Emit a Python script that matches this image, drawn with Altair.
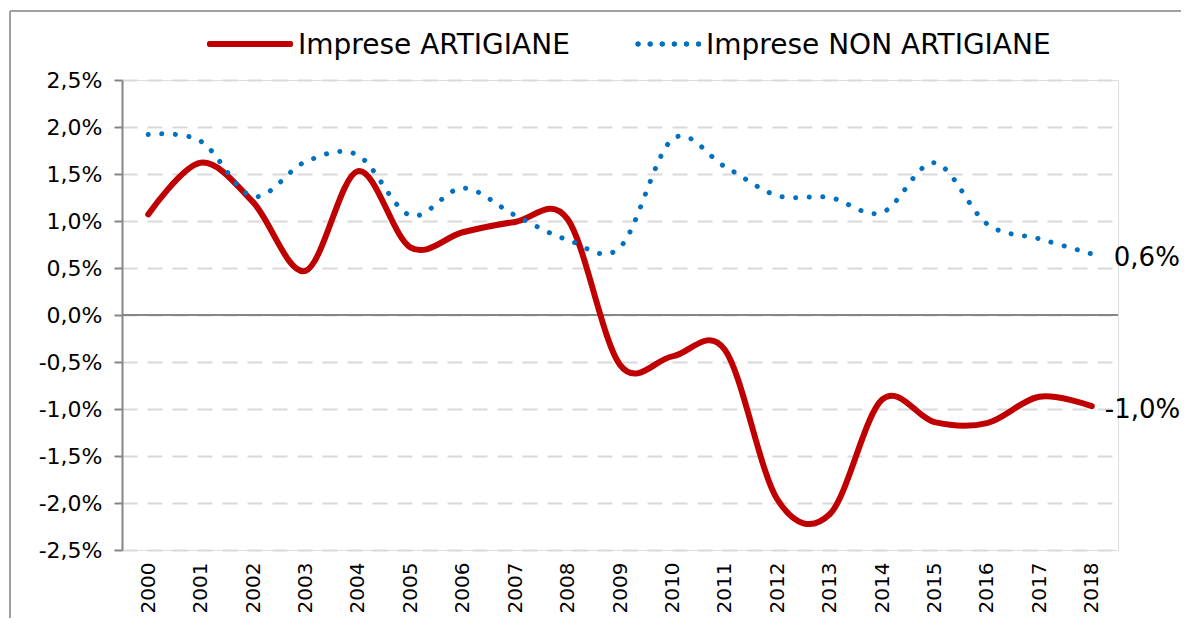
import altair as alt
import pandas as pd

years = [str(y) for y in range(2000, 2019)]
artigiane = [1.07, 1.62, 1.20, 0.47, 1.53, 0.72, 0.88, 0.99, 1.02, -0.53, -0.44,
             -0.37, -1.96, -2.12, -0.90, -1.14, -1.15, -0.87, -0.97]
non_artigiane = [1.92, 1.85, 1.26, 1.63, 1.70, 1.06, 1.35, 1.06, 0.80, 0.72, 1.87,
                 1.58, 1.27, 1.25, 1.09, 1.62, 0.97, 0.81, 0.65]
series_names = ["Imprese ARTIGIANE", "Imprese NON ARTIGIANE"]
end_labels = ["-1,0%", "0,6%"]
y_ticks = [-2.5, -2.0, -1.5, -1.0, -0.5, 0.0, 0.5, 1.0, 1.5, 2.0, 2.5]

RED = "#C00000"
BLUE = "#0070C0"
GRAY = "#868686"
FONT = "DejaVu Sans"

df = pd.DataFrame({
    "year": years * 2,
    "value": artigiane + non_artigiane,
    "serie": [series_names[0]] * len(years) + [series_names[1]] * len(years),
})
df_end = pd.DataFrame({
    "year": [years[-1], years[-1]],
    "value": [artigiane[-1], non_artigiane[-1]],
    "label": end_labels,
    "serie": series_names,
})

x_enc = alt.X("year:O", title=None, sort=years,
              axis=alt.Axis(labelAngle=-90, labelFontSize=20, labelPadding=12,
                            domain=False, ticks=False, grid=False,
                            labelColor="black", labelFont=FONT))
y_enc = alt.Y("value:Q", title=None,
              scale=alt.Scale(domain=[-2.5, 2.5], nice=False, zero=False),
              axis=alt.Axis(values=y_ticks,
                            labelExpr="replace(replace(format(datum.value, '.1f'), '.', ','), '\u2212', '-') + '%'",
                            labelFontSize=22, labelPadding=12, labelColor="black",
                            labelFont=FONT,
                            tickSize=8, tickColor=GRAY, tickWidth=2,
                            domainColor=GRAY, domainWidth=2,
                            grid=True, gridColor="#D9D9D9", gridWidth=2,
                            gridDash=[15, 10]))

base = alt.Chart(df)

zero = alt.Chart(pd.DataFrame({"z": [0.0]})).mark_rule(color=GRAY, strokeWidth=2).encode(
    y=alt.Y("z:Q", scale=alt.Scale(domain=[-2.5, 2.5], nice=False, zero=False))
)

red = base.transform_filter(alt.datum.serie == series_names[0]).mark_line(
    interpolate="cardinal", color=RED, strokeWidth=6, strokeCap="round"
).encode(x=x_enc, y=y_enc)

blue = base.transform_filter(alt.datum.serie == series_names[1]).mark_line(
    interpolate="cardinal", color=BLUE, strokeWidth=5, strokeDash=[0.1, 13.5],
    strokeCap="round"
).encode(x=x_enc, y=y_enc)

end_red = alt.Chart(df_end).transform_filter(alt.datum.serie == series_names[0]).mark_text(
    align="left", baseline="middle", dx=13, dy=4, fontSize=26, font=FONT, color="black"
).encode(x=alt.X("year:O", sort=years), y=alt.Y("value:Q"), text="label:N")

end_blue = alt.Chart(df_end).transform_filter(alt.datum.serie == series_names[1]).mark_text(
    align="left", baseline="middle", dx=22, dy=4, fontSize=26, font=FONT, color="black"
).encode(x=alt.X("year:O", sort=years), y=alt.Y("value:Q"), text="label:N")

# manual legend
leg_df = pd.DataFrame({"name": series_names})
leg_red_line = alt.Chart(leg_df).mark_rule(color=RED, strokeWidth=6, strokeCap="round").encode(
    x=alt.value(88), x2=alt.value(168), y=alt.value(-36)
)
leg_red_text = alt.Chart(leg_df).transform_filter(alt.datum.name == series_names[0]).mark_text(
    align="left", baseline="middle", fontSize=28, font=FONT, color="black"
).encode(x=alt.value(176), y=alt.value(-34), text="name:N")
leg_blue_line = alt.Chart(leg_df).mark_rule(
    color=BLUE, strokeWidth=5, strokeDash=[0.1, 12], strokeCap="round"
).encode(x=alt.value(516), x2=alt.value(578), y=alt.value(-36))
leg_blue_text = alt.Chart(leg_df).transform_filter(alt.datum.name == series_names[1]).mark_text(
    align="left", baseline="middle", fontSize=28, font=FONT, color="black"
).encode(x=alt.value(584), y=alt.value(-34), text="name:N")

# outer frame (visible top and left edges)
frame_top = alt.Chart(leg_df).mark_rule(color="#A0A0A0", strokeWidth=2).encode(
    x=alt.value(-112), x2=alt.value(1200), y=alt.value(-69)
)
frame_left = alt.Chart(leg_df).mark_rule(color="#A0A0A0", strokeWidth=2).encode(
    x=alt.value(-112), y=alt.value(-69), y2=alt.value(700)
)

chart = alt.layer(
    frame_top, frame_left, zero, red, blue, end_red, end_blue,
    leg_red_line, leg_red_text, leg_blue_line, leg_blue_text
).properties(
    width=996, height=470,
    autosize=alt.AutoSizeParams(type="none"),
    padding={"left": 114, "top": 72, "right": 63, "bottom": 68},
    background="white",
).configure_view(stroke=None).configure(font=FONT)

chart.save("out.html", embed_options={"renderer": "svg", "actions": False})
